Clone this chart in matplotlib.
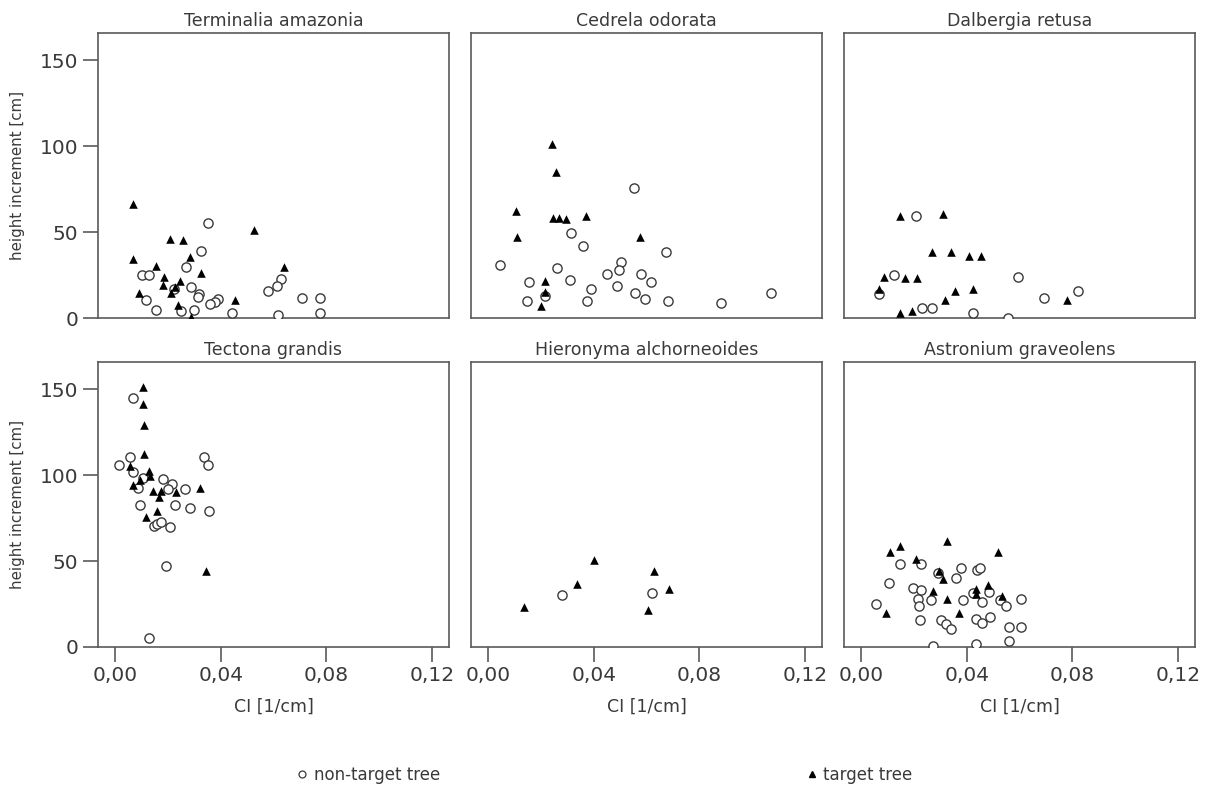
import matplotlib
matplotlib.use("Agg")
import matplotlib.pyplot as plt
from matplotlib.lines import Line2D

plt.rcParams['font.family'] = ['DejaVu Sans']

species = ["Terminalia amazonia", "Cedrela odorata", "Dalbergia retusa",
           "Tectona grandis", "Hieronyma alchorneoides", "Astronium graveolens"]

# (CI, height increment) per species, non-target trees (circles)
terminalia_nt_ci = [0.0353, 0.0327, 0.0269, 0.0103, 0.0130, 0.0630, 0.0614, 0.0581, 0.0286, 0.0224,
                    0.0318, 0.0313, 0.0115, 0.0390, 0.0380, 0.0361, 0.0707, 0.0775, 0.0155, 0.0248,
                    0.0299, 0.0443, 0.0618, 0.0778]
terminalia_nt_h = [55.1, 38.9, 29.9, 24.8, 24.8, 23.0, 18.7, 16.0, 18.0, 16.8,
                   14.1, 12.3, 10.7, 10.9, 9.2, 8.0, 11.9, 11.9, 4.9, 3.9,
                   4.9, 2.7, 2.0, 2.7]
terminalia_t_ci = [0.0066, 0.0526, 0.0209, 0.0257, 0.0066, 0.0285, 0.0153, 0.0327, 0.0641, 0.0184,
                   0.0182, 0.0244, 0.0228, 0.0213, 0.0091, 0.0453, 0.0238, 0.0286]
terminalia_t_h = [66.2, 51.5, 46.3, 45.5, 34.4, 35.5, 30.5, 26.4, 29.5, 23.6,
                  19.5, 21.5, 17.8, 14.5, 14.5, 10.4, 7.8, 0.8]

cedrela_nt_ci = [0.0553, 0.0315, 0.0358, 0.0675, 0.0046, 0.0505, 0.0260, 0.0497, 0.0451, 0.0581,
                 0.0153, 0.0310, 0.0617, 0.0490, 0.0388, 0.0557, 0.1071, 0.0214, 0.0149, 0.0373,
                 0.0594, 0.0683, 0.0884]
cedrela_nt_h = [75.7, 49.8, 41.8, 38.7, 30.9, 32.8, 29.1, 27.7, 25.8, 25.8,
                20.9, 21.9, 20.9, 18.9, 16.8, 14.6, 14.8, 13.1, 9.8, 9.8,
                11.0, 9.8, 8.8]
cedrela_t_ci = [0.0241, 0.0257, 0.0104, 0.0247, 0.0270, 0.0296, 0.0369, 0.0111, 0.0577, 0.0215,
                0.0215, 0.0200]
cedrela_t_h = [101.3, 85.3, 62.3, 58.2, 58.2, 57.4, 59.2, 47.3, 47.3, 21.3, 15.2, 7.2]

dalbergia_nt_ci = [0.0209, 0.0125, 0.0596, 0.0822, 0.0067, 0.0693, 0.0231, 0.0267, 0.0423, 0.0556]
dalbergia_nt_h = [59.6, 24.8, 23.8, 16.0, 13.9, 11.9, 6.0, 6.0, 2.9, 0.2]
dalbergia_t_ci = [0.0146, 0.0309, 0.0270, 0.0339, 0.0410, 0.0455, 0.0085, 0.0166, 0.0210, 0.0067,
                  0.0355, 0.0425, 0.0317, 0.0781, 0.0147, 0.0191]
dalbergia_t_h = [59.4, 60.5, 38.5, 38.5, 36.3, 36.3, 24.0, 23.2, 23.2, 16.8,
                 15.6, 16.8, 10.4, 10.4, 3.1, 4.1]

tectona_nt_ci = [0.0067, 0.0016, 0.0058, 0.0068, 0.0338, 0.0350, 0.0105, 0.0181, 0.0214, 0.0087,
                 0.0199, 0.0263, 0.0094, 0.0227, 0.0285, 0.0357, 0.0146, 0.0160, 0.0172, 0.0208,
                 0.0193, 0.0127]
tectona_nt_h = [144.8, 106.1, 110.7, 101.8, 110.7, 105.8, 98.7, 97.9, 95.2, 92.6,
                92.1, 92.1, 82.9, 82.9, 81.0, 79.0, 70.6, 71.8, 73.0, 70.1,
                47.3, 5.4]
tectona_t_ci = [0.0105, 0.0105, 0.0109, 0.0109, 0.0057, 0.0127, 0.0132, 0.0096, 0.0067, 0.0142,
                0.0175, 0.0166, 0.0232, 0.0320, 0.0158, 0.0117, 0.0345]
tectona_t_h = [151.6, 141.3, 129.2, 112.5, 105.7, 102.6, 99.4, 97.3, 94.2, 90.7,
               90.7, 87.6, 90.5, 92.6, 79.4, 75.7, 44.5]

hieronyma_nt_ci = [0.0279, 0.0619]
hieronyma_nt_h = [30.4, 31.3]
hieronyma_t_ci = [0.0400, 0.0628, 0.0336, 0.0685, 0.0134, 0.0607]
hieronyma_t_h = [50.6, 44.5, 36.8, 33.7, 23.5, 21.6]

astronium_nt_ci = [0.0149, 0.0227, 0.0379, 0.0438, 0.0450, 0.0291, 0.0358, 0.0105, 0.0198, 0.0225,
                   0.0422, 0.0483, 0.0215, 0.0266, 0.0386, 0.0457, 0.0525, 0.0604, 0.0057, 0.0219,
                   0.0550, 0.0222, 0.0304, 0.0320, 0.0339, 0.0434, 0.0457, 0.0490, 0.0561, 0.0605,
                   0.0562, 0.0274, 0.0436]
astronium_nt_h = [48.3, 48.3, 46.3, 45.1, 46.3, 43.0, 40.1, 37.4, 34.3, 33.3,
                  31.5, 32.3, 28.2, 27.3, 27.3, 26.3, 27.3, 28.2, 25.3, 24.1,
                  24.1, 15.6, 15.6, 13.3, 10.3, 16.3, 14.0, 17.3, 11.5, 11.5,
                  3.7, 0.6, 1.6]
astronium_t_ci = [0.0326, 0.0146, 0.0109, 0.0518, 0.0209, 0.0294, 0.0310, 0.0479, 0.0271, 0.0437,
                  0.0437, 0.0532, 0.0326, 0.0370, 0.0094]
astronium_t_h = [61.5, 58.8, 55.5, 55.5, 51.5, 44.5, 39.5, 36.2, 32.9, 33.7,
                 30.9, 29.8, 28.0, 20.0, 19.8]

non_target = [(terminalia_nt_ci, terminalia_nt_h), (cedrela_nt_ci, cedrela_nt_h),
              (dalbergia_nt_ci, dalbergia_nt_h), (tectona_nt_ci, tectona_nt_h),
              (hieronyma_nt_ci, hieronyma_nt_h), (astronium_nt_ci, astronium_nt_h)]
target = [(terminalia_t_ci, terminalia_t_h), (cedrela_t_ci, cedrela_t_h),
          (dalbergia_t_ci, dalbergia_t_h), (tectona_t_ci, tectona_t_h),
          (hieronyma_t_ci, hieronyma_t_h), (astronium_t_ci, astronium_t_h)]

x_ticks = [0.00, 0.04, 0.08, 0.12]
x_ticklabels = ["0,00", "0,04", "0,08", "0,12"]
y_ticks = [0, 50, 100, 150]

text_col = "#3a3a3a"
spine_col = "#5a5a5a"

W, H = 1210, 790
fig = plt.figure(figsize=(12.1, 7.9), dpi=100)

lefts = [98, 471, 844]
bottoms = [472, 143]
aw, ah = 351, 285

for i, name in enumerate(species):
    row, col = divmod(i, 3)
    ax = fig.add_axes([lefts[col] / W, bottoms[row] / H, aw / W, ah / H])
    ax.scatter(*non_target[i], s=44, marker="o", facecolors="white",
               edgecolors="#3a3a3a", linewidths=1.0, zorder=3)
    ax.scatter(*target[i], s=38, marker="^", color="black", linewidths=0, zorder=4)
    ax.set_xlim(-0.0065, 0.1265)
    ax.set_ylim(0, 166)
    ax.set_title(name, fontsize=12.5, color=text_col, pad=5)
    for sp in ax.spines.values():
        sp.set_color(spine_col)
        sp.set_linewidth(1.2)
    ax.tick_params(length=11, width=1.2, color=spine_col, labelcolor=text_col,
                   labelsize=14.5, pad=3)
    ax.set_yticks(y_ticks)
    ax.set_xticks(x_ticks)
    if col == 0:
        ax.set_ylabel("height increment [cm]", fontsize=10.8, color=text_col, labelpad=11)
    else:
        ax.tick_params(axis="y", left=False, labelleft=False)
    if row == 1:
        ax.set_xticklabels(x_ticklabels)
        ax.set_xlabel("CI [1/cm]", fontsize=12.5, color=text_col, labelpad=9)
    else:
        ax.tick_params(axis="x", bottom=False, labelbottom=False)

handles = [Line2D([], [], linestyle="none", marker="o", markersize=5, markerfacecolor="white",
                  markeredgecolor="#3a3a3a", markeredgewidth=0.9),
           Line2D([], [], linestyle="none", marker="^", markersize=5, color="black")]
fig.legend(handles, ["non-target tree", "target tree"], ncol=2, loc="center",
           bbox_to_anchor=(603 / W, 15 / H), frameon=False, fontsize=12,
           labelcolor=text_col, handletextpad=0.2, columnspacing=21.8, handlelength=1.0)

fig.savefig("out.png", dpi=100)
